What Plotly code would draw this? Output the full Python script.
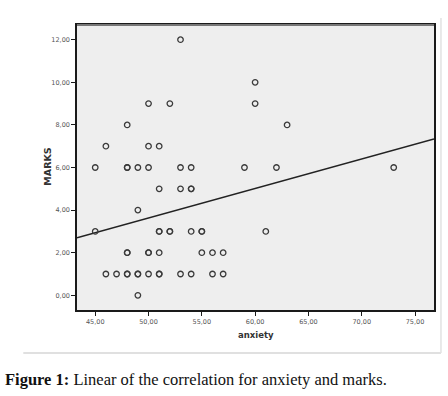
import plotly.graph_objects as go

# anxiety (x) and marks (y); repeated pairs = overplotted (bold) circles
anxiety = [53,
           60,
           50, 52, 60,
           48, 63,
           46, 50, 51,
           45, 48, 48, 49, 50, 53, 54, 59, 62, 73,
           51, 53, 54, 54,
           49,
           45, 51, 51, 52, 52, 54, 55, 55, 61,
           48, 48, 50, 50, 51, 55, 56, 57,
           46, 47, 48, 48, 49, 49, 50, 51, 51, 53, 54, 56, 57,
           49]
marks = [12,
         10,
         9, 9, 9,
         8, 8,
         7, 7, 7,
         6, 6, 6, 6, 6, 6, 6, 6, 6, 6,
         5, 5, 5, 5,
         4,
         3, 3, 3, 3, 3, 3, 3, 3, 3,
         2, 2, 2, 2, 2, 2, 2, 2,
         1, 1, 1, 1, 1, 1, 1, 1, 1, 1, 1, 1, 1,
         0]

# fit line
fit_intercept = -3.30
fit_slope = 0.1386

x_range = [43.29, 76.78]
y_range = [-0.69, 12.69]

x_ticks = [45, 50, 55, 60, 65, 70, 75]
x_ticktext = ["45,00", "50,00", "55,00", "60,00", "65,00", "70,00", "75,00"]
y_ticks = [0, 2, 4, 6, 8, 10, 12]
y_ticktext = ["0,00", "2,00", "4,00", "6,00", "8,00", "10,00", "12,00"]

caption = "<b>Figure 1:</b> Linear of the correlation for anxiety and marks."

fig = go.Figure()
fig.add_trace(go.Scatter(
    x=x_range,
    y=[fit_intercept + fit_slope * v for v in x_range],
    mode="lines", line=dict(color="#222222", width=1.6),
    hoverinfo="skip", showlegend=False))
fig.add_trace(go.Scatter(
    x=anxiety, y=marks, mode="markers",
    marker=dict(symbol="circle-open", size=5.5, color="#3a3a3a",
                line=dict(width=1.3, color="#3a3a3a")),
    showlegend=False))

axis_common = dict(showgrid=False, zeroline=False, showline=True, mirror=True,
                   linecolor="#1a1a1a", linewidth=1.5, ticks="outside",
                   ticklen=4, tickwidth=1, tickcolor="#1a1a1a",
                   tickfont=dict(family="DejaVu Sans", size=6.5, color="#555555"))

fig.update_xaxes(range=x_range, tickvals=x_ticks, ticktext=x_ticktext, **axis_common)
fig.update_yaxes(range=y_range, tickvals=y_ticks, ticktext=y_ticktext, **axis_common)

fig.update_layout(
    width=448, height=396,
    margin=dict(l=77, r=12, t=25, b=86),
    paper_bgcolor="white", plot_bgcolor="#eeeeee",
    shapes=[
        dict(type="line", xref="paper", yref="paper", x0=0, x1=1, y0=1, y1=1,
             line=dict(color="#777777", width=2)),
        dict(type="line", xref="paper", yref="paper",
             x0=(23 - 77) / 359, x1=(443 - 77) / 359,
             y0=(310 - 353) / 285, y1=(310 - 353) / 285,
             line=dict(color="#d6d6d6", width=1.5)),
        dict(type="line", xref="paper", yref="paper",
             x0=(443 - 77) / 359, x1=(443 - 77) / 359,
             y0=(310 - 18) / 285, y1=(310 - 353) / 285,
             line=dict(color="#e2e2e2", width=1.5)),
    ],
    annotations=[
        dict(text="<b>MARKS</b>", textangle=-90, xref="paper", yref="paper",
             xanchor="center", yanchor="middle",
             x=(46.5 - 77) / 359, y=(310 - 167) / 285, showarrow=False,
             font=dict(family="DejaVu Sans", size=9.5, color="#333333")),
        dict(text="<b>anxiety</b>", xref="paper", yref="paper",
             xanchor="center", yanchor="middle",
             x=(257 - 77) / 359, y=(310 - 335) / 285, showarrow=False,
             font=dict(family="DejaVu Sans", size=8.5, color="#333333")),
        dict(text=caption, xref="paper", yref="paper", xanchor="left",
             yanchor="middle",
             x=(3 - 77) / 359, y=(310 - 379) / 285, showarrow=False,
             font=dict(family="Liberation Serif", size=16.5, color="#111111")),
    ],
)

fig.write_html("out.html", config={"displayModeBar": False},
               post_script="document.body.style.margin='0';")
